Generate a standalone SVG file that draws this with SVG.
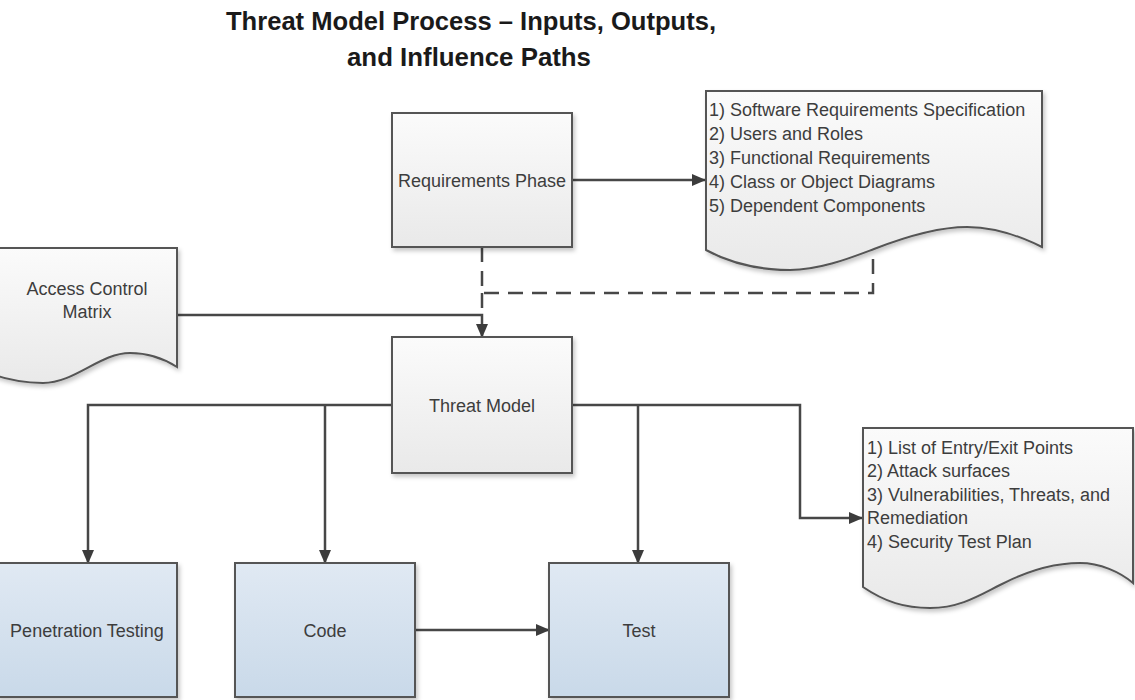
<svg xmlns="http://www.w3.org/2000/svg" width="1135" height="700" viewBox="0 0 1135 700">
<defs>
<linearGradient id="gGrey" x1="0" y1="0" x2="0" y2="1">
<stop offset="0" stop-color="#fbfbfb"/>
<stop offset="1" stop-color="#e9e9e9"/>
</linearGradient>
<linearGradient id="gBlue" x1="0" y1="0" x2="0" y2="1">
<stop offset="0" stop-color="#e0e9f3"/>
<stop offset="1" stop-color="#c9d9e9"/>
</linearGradient>
<filter id="sh" x="-10%" y="-10%" width="125%" height="125%">
<feDropShadow dx="2" dy="3" stdDeviation="2" flood-color="#000" flood-opacity="0.22"/>
</filter>
<marker id="arr" markerUnits="userSpaceOnUse" markerWidth="14" markerHeight="12" refX="13" refY="6" orient="auto">
<path d="M0,0 L14,6 L0,12 Z" fill="#3c3c3c"/>
</marker>
</defs>
<style>
.box{fill:url(#gGrey);stroke:#555;stroke-width:2;filter:url(#sh)}
.bbox{fill:url(#gBlue);stroke:#555;stroke-width:2;filter:url(#sh)}
.doc{fill:url(#gGrey);stroke:#555;stroke-width:2;filter:url(#sh)}
.t{font-family:"Liberation Sans",Arial,sans-serif;font-size:18px;fill:#3d3d3d}
.c{text-anchor:middle}
.title{font-family:"Liberation Sans",Arial,sans-serif;font-size:25px;font-weight:bold;fill:#1a1a1a}
.ln{fill:none;stroke:#474747;stroke-width:2.5}
.dash{fill:none;stroke:#474747;stroke-width:2.5;stroke-dasharray:15,9}
</style>
<rect width="1135" height="700" fill="#fff"/>
<g id="title">
<text class="title" x="226" y="30" textLength="490" lengthAdjust="spacingAndGlyphs">Threat Model Process – Inputs, Outputs,</text>
<text class="title" x="347" y="66" textLength="244" lengthAdjust="spacingAndGlyphs">and Influence Paths</text>
</g>
<g id="connectors">
<path class="ln" d="M572,180 H705" marker-end="url(#arr)"/>
<path class="dash" d="M482,247 V293 H873 V251"/>
<path class="dash" d="M482,293 V315"/>
<path class="ln" d="M177,315 H482 V337" marker-end="url(#arr)"/>
<path class="ln" d="M392,405 H88 V563" marker-end="url(#arr)"/>
<path class="ln" d="M325,405 V563" marker-end="url(#arr)"/>
<path class="ln" d="M572,405 H800 V518 H862" marker-end="url(#arr)"/>
<path class="ln" d="M638,405 V563" marker-end="url(#arr)"/>
<path class="ln" d="M415,630 H549" marker-end="url(#arr)"/>
</g>
<g id="requirements-phase">
<rect class="box" x="392" y="113" width="180" height="134"/>
<text class="t c" x="482" y="187">Requirements Phase</text>
</g>
<g id="requirements-outputs">
<path class="doc" d="M706,91 H1042 V247 C1020,236 995,227 967,227 C940,227 910,235 874,249 C850,258 820,270 790,270 C760,270 730,263 706,250 Z"/>
<text class="t" x="709" y="116">1) Software Requirements Specification</text>
<text class="t" x="709" y="140">2) Users and Roles</text>
<text class="t" x="709" y="164">3) Functional Requirements</text>
<text class="t" x="709" y="188">4) Class or Object Diagrams</text>
<text class="t" x="709" y="212">5) Dependent Components</text>
</g>
<g id="access-control-matrix">
<path class="doc" d="M-20,248 H177 V367 C163,358 148,353 130,353 C100,353 75,383 43,383 C20,383 0,378 -20,370 Z"/>
<text class="t c" x="87" y="295">Access Control</text>
<text class="t c" x="87" y="318">Matrix</text>
</g>
<g id="threat-model">
<rect class="box" x="392" y="337" width="180" height="136"/>
<text class="t c" x="482" y="412">Threat Model</text>
</g>
<g id="threat-model-outputs">
<path class="doc" d="M863,428 H1133 V583 C1120,572 1100,563 1080,563 C1050,563 1025,572 1000,585 C980,595 960,608 930,608 C905,608 885,602 863,587 Z"/>
<text class="t" x="867" y="454">1) List of Entry/Exit Points</text>
<text class="t" x="867" y="477">2) Attack surfaces</text>
<text class="t" x="867" y="501">3) Vulnerabilities, Threats, and</text>
<text class="t" x="867" y="524">Remediation</text>
<text class="t" x="867" y="548">4) Security Test Plan</text>
</g>
<g id="penetration-testing">
<rect class="bbox" x="-3" y="563" width="180" height="134"/>
<text class="t c" x="87" y="637">Penetration Testing</text>
</g>
<g id="code">
<rect class="bbox" x="235" y="563" width="180" height="134"/>
<text class="t c" x="325" y="637">Code</text>
</g>
<g id="test">
<rect class="bbox" x="549" y="563" width="180" height="134"/>
<text class="t c" x="639" y="637">Test</text>
</g>
</svg>
